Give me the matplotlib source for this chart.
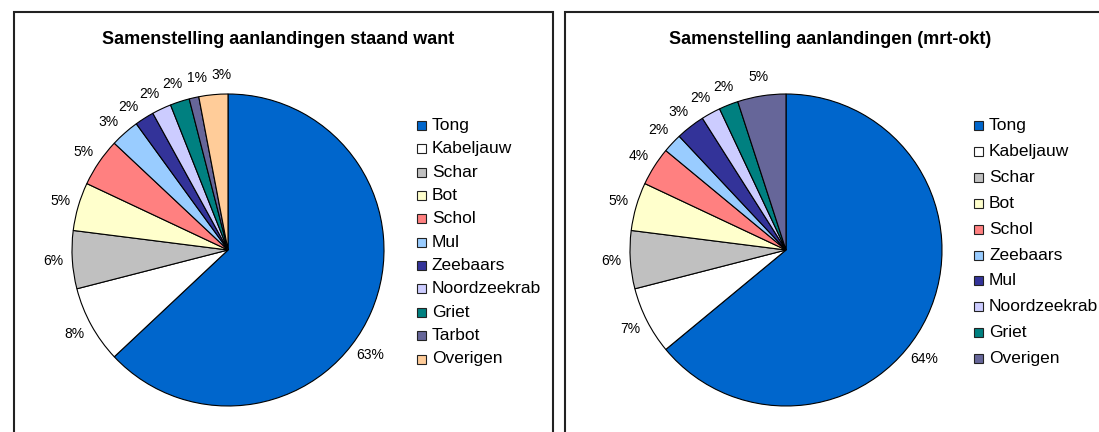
import matplotlib.pyplot as plt
import numpy as np
from matplotlib.patches import Rectangle

plt.rcParams['font.family'] = ['Liberation Sans', 'DejaVu Sans']

# staand want (links)
soorten_l = ['Tong', 'Kabeljauw', 'Schar', 'Bot', 'Schol', 'Mul', 'Zeebaars',
             'Noordzeekrab', 'Griet', 'Tarbot', 'Overigen']
pct_l = [63, 8, 6, 5, 5, 3, 2, 2, 2, 1, 3]
kleur_l = ['#0066CC', '#FFFFFF', '#C0C0C0', '#FFFFCC', '#FF8080', '#99CCFF',
           '#333399', '#CCCCFF', '#008080', '#666699', '#FFCC99']

# mrt-okt (rechts)
soorten_r = ['Tong', 'Kabeljauw', 'Schar', 'Bot', 'Schol', 'Zeebaars', 'Mul',
             'Noordzeekrab', 'Griet', 'Overigen']
pct_r = [64, 7, 6, 5, 4, 2, 3, 2, 2, 5]
kleur_r = ['#0066CC', '#FFFFFF', '#C0C0C0', '#FFFFCC', '#FF8080', '#99CCFF',
           '#333399', '#CCCCFF', '#008080', '#666699']

W, H = 1099, 432
fig = plt.figure(figsize=(W / 100, H / 100), dpi=100)


def px(x, y):
    # pixel (vanaf linksboven) -> figuurcoordinaten
    return x / W, 1 - y / H


def kader(x0, x1):
    fig.patches.append(Rectangle((x0 / W, -0.05), (x1 - x0) / W, 1.05 - 12 / H,
                                 transform=fig.transFigure, fill=False,
                                 edgecolor='#222222', linewidth=1.5))


def spreid(hoeken, minafstand=8.2, n=200):
    # labels van kleine sectoren uit elkaar duwen langs de cirkel
    h = list(hoeken)
    for _ in range(n):
        for i in range(len(h) - 1):
            gat = h[i] - h[i + 1]
            if 0 < gat < minafstand:
                d = (minafstand - gat) / 2
                h[i] += d
                h[i + 1] -= d
    return h


def taart(cx, cy, r, waarden, kleuren):
    ax = fig.add_axes([(cx - r) / W, (H - cy - r) / H, 2 * r / W, 2 * r / H])
    wedges, _ = ax.pie(waarden, colors=kleuren, startangle=90, counterclock=False,
                       wedgeprops=dict(edgecolor='black', linewidth=0.8))
    ax.set_xlim(-1, 1)
    ax.set_ylim(-1, 1)
    ax.set_aspect('equal')
    hoeken = [(w.theta1 + w.theta2) / 2 for w in wedges]
    # grootste sector: label wat verder naar beneden
    hoeken[0] -= 13
    hoeken[1:] = spreid(hoeken[1:])
    for i, (hoek, v) in enumerate(zip(hoeken, waarden)):
        d = 1.13 if i == 0 else 1.12
        a = np.deg2rad(hoek)
        ax.text(d * np.cos(a), d * np.sin(a), f'{v}%', ha='center', va='center',
                fontsize=10, clip_on=False)
    return ax


def legenda(x, y0, stap, namen, kleuren):
    for i, (n, k) in enumerate(zip(namen, kleuren)):
        y = y0 + i * stap
        fig.patches.append(Rectangle(px(x, y + 4.5), 9 / W, 9 / H,
                                     transform=fig.transFigure, facecolor=k,
                                     edgecolor='#222222', linewidth=0.8))
        fig.text(*px(x + 15, y), n, fontsize=12.5, ha='left', va='center')


kader(14, 553)
kader(565, 1115)

fig.text(*px(278, 39), 'Samenstelling aanlandingen staand want', fontsize=13,
         fontweight='bold', ha='center', va='center')
fig.text(*px(830, 39), 'Samenstelling aanlandingen (mrt-okt)', fontsize=13,
         fontweight='bold', ha='center', va='center')

taart(228, 250, 156, pct_l, kleur_l)
taart(786, 250, 156, pct_r, kleur_r)

legenda(417, 125.5, 23.35, soorten_l, kleur_l)
legenda(974, 125.5, 25.9, soorten_r, kleur_r)

fig.savefig('out.png', dpi=100)
